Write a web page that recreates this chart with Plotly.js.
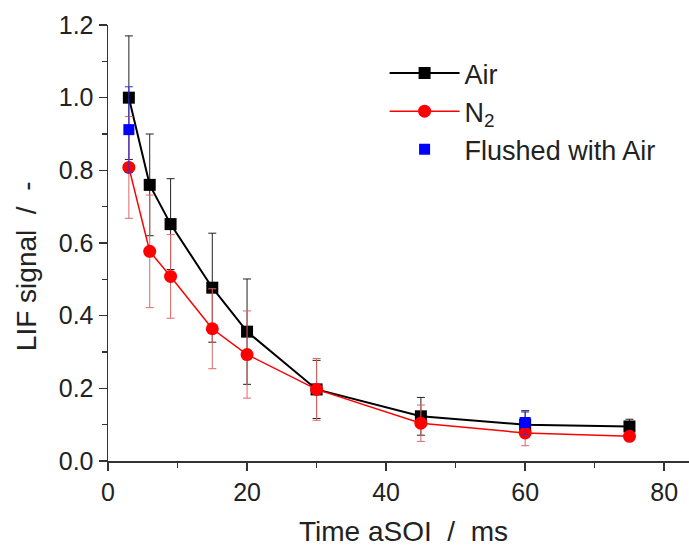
<!DOCTYPE html>
<html>
<head>
<meta charset="utf-8">
<script src="https://cdn.plot.ly/plotly-3.0.1.min.js"></script>
<style>
html, body { margin: 0; padding: 0; overflow: hidden; background: #fff; width: 689px; height: 547px; }
#chart { width: 699px; height: 547px; }
</style>
</head>
<body>
<div id="chart"></div>
<script>
// Data
const timeMs = [3, 6, 9, 15, 20, 30, 45, 60, 75];
const airSignal = [1.00, 0.76, 0.652, 0.477, 0.356, 0.197, 0.123, 0.10, 0.095];
const airError = [0.17, 0.14, 0.125, 0.15, 0.145, 0.08, 0.052, 0.035, 0.02];
const n2Signal = [0.808, 0.577, 0.508, 0.364, 0.293, 0.197, 0.104, 0.077, 0.068];
const n2Error = [0.14, 0.155, 0.115, 0.11, 0.12, 0.085, 0.05, 0.035, 0.01];
const flushedTime = [3, 60];
const flushedSignal = [0.912, 0.106];
const flushedError = [0.118, 0.033];
const seriesNames = ['Air', 'N<sub>2</sub>', 'Flushed with Air'];

const fontFam = 'Liberation Sans, Arial, sans-serif';
const axisColor = '#333333';

const traces = [
  {
    x: timeMs, y: airSignal, name: seriesNames[0], type: 'scatter', mode: 'lines+markers',
    line: { color: '#000000', width: 2 },
    marker: { symbol: 'square', size: 12, color: '#000000' },
    error_y: { type: 'data', array: airError, visible: true, color: '#222222', thickness: 1, width: 4 }
  },
  {
    x: timeMs, y: n2Signal, name: seriesNames[1], type: 'scatter', mode: 'lines+markers',
    line: { color: '#ff0000', width: 1.5 },
    marker: { symbol: 'circle', size: 13, color: '#ff0000' },
    error_y: { type: 'data', array: n2Error, visible: true, color: '#e06666', thickness: 1, width: 4 }
  },
  {
    x: flushedTime, y: flushedSignal, name: seriesNames[2], type: 'scatter', mode: 'markers',
    marker: { symbol: 'square', size: 11, color: '#0000ff' },
    error_y: { type: 'data', array: flushedError, visible: true, color: '#3333dd', thickness: 1, width: 4 }
  }
];

const layout = {
  width: 699, height: 547,
  margin: { l: 108, r: 0, t: 25, b: 86 },
  paper_bgcolor: '#ffffff', plot_bgcolor: '#ffffff',
  font: { family: fontFam, color: '#222222' },
  showlegend: true,
  legend: {
    x: 0.468, y: 0.945, xanchor: 'left', yanchor: 'top',
    bgcolor: 'rgba(0,0,0,0)', borderwidth: 0,
    font: { family: fontFam, size: 27, color: '#222222' },
    itemwidth: 70, tracegroupgap: 0
  },
  xaxis: {
    range: [0, 85], dtick: 20, tick0: 0,
    showline: true, linecolor: axisColor, linewidth: 1.5,
    showgrid: false, zeroline: false,
    ticks: 'outside', ticklen: 8, tickwidth: 1.5, tickcolor: axisColor,
    minor: { dtick: 10, ticks: 'outside', ticklen: 5, tickwidth: 1.5, tickcolor: axisColor },
    tickfont: { family: fontFam, size: 25, color: '#222222' },
    title: { text: 'Time aSOI\u00a0 /\u00a0 ms', font: { family: fontFam, size: 28, color: '#222222' }, standoff: 21 }
  },
  xaxis2: {
    overlaying: 'x', side: 'top', anchor: 'y',
    range: [0, 85], dtick: 20, tick0: 0,
    showline: true, linecolor: axisColor, linewidth: 1.5,
    showgrid: false, zeroline: false, showticklabels: false,
    ticks: 'inside', ticklen: 8, tickwidth: 1.5, tickcolor: axisColor,
    minor: { dtick: 10, ticks: 'inside', ticklen: 5, tickwidth: 1.5, tickcolor: axisColor }
  },
  yaxis: {
    range: [0, 1.2], dtick: 0.2, tick0: 0, tickformat: '.1f',
    showline: true, linecolor: axisColor, linewidth: 1.5,
    showgrid: false, zeroline: false,
    ticks: 'outside', ticklen: 8, tickwidth: 1.5, tickcolor: axisColor,
    minor: { dtick: 0.1, ticks: 'outside', ticklen: 5, tickwidth: 1.5, tickcolor: axisColor },
    tickfont: { family: fontFam, size: 25, color: '#222222' },
    title: { text: 'LIF signal\u00a0 /\u00a0 -\u00a0\u00a0\u00a0\u00a0\u00a0\u00a0\u200b', font: { family: fontFam, size: 28, color: '#222222' }, standoff: 14 }
  }
};

Plotly.newPlot('chart', traces, layout, { displayModeBar: false, staticPlot: true });
</script>
</body>
</html>
